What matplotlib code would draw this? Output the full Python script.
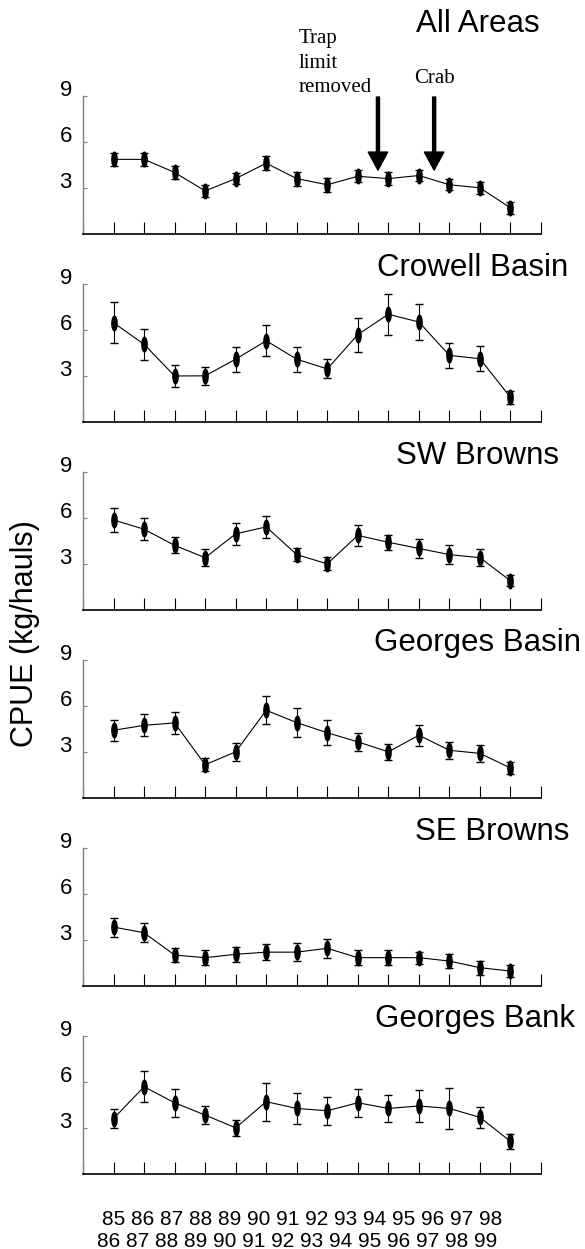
import matplotlib
matplotlib.use("Agg")
import matplotlib.pyplot as plt
from matplotlib.path import Path
from matplotlib.transforms import Affine2D

plt.rcParams['font.family'] = ['Liberation Sans', 'DejaVu Sans']
plt.rcParams['ytick.alignment'] = 'baseline'

# fishing seasons 1985-86 ... 1998-99
season_start = [85, 86, 87, 88, 89, 90, 91, 92, 93, 94, 95, 96, 97, 98]
season_end = [86, 87, 88, 89, 90, 91, 92, 93, 94, 95, 96, 97, 98, 99]

areas = ["All Areas", "Crowell Basin", "SW Browns",
         "Georges Basin", "SE Browns", "Georges Bank"]

# mean CPUE (kg/haul) and error bar half widths
all_areas_cpue = [4.85, 4.85, 4.0, 2.8, 3.6, 4.6, 3.6, 3.2, 3.75, 3.6, 3.8, 3.2, 3.0, 1.7]
all_areas_err = [0.4, 0.4, 0.4, 0.38, 0.38, 0.47, 0.45, 0.45, 0.4, 0.4, 0.36, 0.35, 0.4, 0.38]

crowell_cpue = [6.45, 5.05, 2.99, 3.0, 4.08, 5.28, 4.08, 3.45, 5.68, 7.0, 6.5, 4.33, 4.11, 1.6]
crowell_err = [1.32, 1.0, 0.72, 0.6, 0.8, 1.0, 0.8, 0.62, 1.1, 1.32, 1.2, 0.8, 0.8, 0.44]

sw_browns_cpue = [5.85, 5.25, 4.2, 3.4, 4.95, 5.4, 3.6, 3.0, 4.85, 4.4, 4.0, 3.6, 3.4, 1.9]
sw_browns_err = [0.8, 0.7, 0.52, 0.55, 0.72, 0.7, 0.42, 0.43, 0.7, 0.5, 0.6, 0.6, 0.55, 0.35]

georges_basin_cpue = [4.4, 4.72, 4.88, 2.16, 3.0, 5.7, 4.9, 4.24, 3.65, 3.0, 4.08, 3.1, 2.9, 1.95]
georges_basin_err = [0.7, 0.72, 0.72, 0.43, 0.6, 0.9, 0.94, 0.81, 0.6, 0.52, 0.68, 0.57, 0.57, 0.42]

se_browns_cpue = [3.83, 3.46, 2.01, 1.84, 2.06, 2.2, 2.2, 2.45, 1.84, 1.84, 1.84, 1.62, 1.19, 0.97]
se_browns_err = [0.62, 0.62, 0.44, 0.5, 0.47, 0.52, 0.6, 0.62, 0.47, 0.47, 0.38, 0.43, 0.45, 0.38]

georges_bank_cpue = [3.6, 5.67, 4.63, 3.83, 3.0, 4.7, 4.26, 4.11, 4.63, 4.26, 4.42, 4.26, 3.68, 2.12]
georges_bank_err = [0.6, 1.0, 0.91, 0.6, 0.54, 1.24, 1.0, 0.9, 0.91, 0.88, 1.02, 1.32, 0.7, 0.5]

panels = [(all_areas_cpue, all_areas_err), (crowell_cpue, crowell_err),
          (sw_browns_cpue, sw_browns_err), (georges_basin_cpue, georges_basin_err),
          (se_browns_cpue, se_browns_err), (georges_bank_cpue, georges_bank_err)]

# management events marked on the top panel (x = season index)
events = [("trap", 9.66), ("crab", 11.5)]

W, H = 585, 1249


def fx(px):
    return px / W


def fy(py):
    return 1 - py / H


# tall narrow ellipse used as the point marker
ellipse = Path.unit_circle().transformed(Affine2D().scale(0.36, 1.0))

fig = plt.figure(figsize=(W / 100, H / 100), dpi=100)
x = list(range(1, len(season_start) + 1))
title_x = [478, 473, 478, 477, 492, 475]

axes = []
for i, (cpue, err) in enumerate(panels):
    y0 = 234 + 188 * i
    ax = fig.add_axes([fx(83), fy(y0), (541 - 83) / W, 138.5 / H])
    ax.errorbar(x, cpue, yerr=err, fmt='-', color='k', lw=0.8,
                marker=ellipse, ms=10.5, mfc='k', mec='k',
                ecolor='k', elinewidth=0.8, capsize=3, capthick=1.0)
    ax.set_xlim(0, len(x) + 1)
    ax.set_ylim(0, 9)
    ax.set_xticks(range(0, len(x) + 2))
    ax.set_xticklabels([])
    ax.set_yticks([3, 6, 9])
    ax.tick_params(axis='x', direction='in', length=8.6, width=0.8, color='k')
    ax.tick_params(axis='y', direction='in', length=3, width=0.8,
                   color='#808080', labelsize=16, pad=8)
    ax.spines['top'].set_visible(False)
    ax.spines['right'].set_visible(False)
    ax.spines['left'].set_color('#808080')
    ax.spines['left'].set_linewidth(1.0)
    ax.spines['bottom'].set_linewidth(1.2)
    axes.append(ax)

    baseline = 32 if i == 0 else y0 - 138.5 - 8
    fig.text(fx(title_x[i]), fy(baseline), areas[i], ha='center',
             va='baseline', fontsize=22.5)

# arrows and notes on the All Areas panel
for name, ex in events:
    axes[0].annotate('', xy=(ex, 4.15), xytext=(ex, 8.9),
                     arrowprops=dict(width=2.2, headwidth=14, headlength=13,
                                     shrink=0, color='k'),
                     annotation_clip=False)

serif = ['Liberation Serif', 'DejaVu Serif']
for line, yb in zip(["Trap", "limit", "removed"], [43, 67.5, 92]):
    fig.text(fx(299), fy(yb), line, family=serif, fontsize=15, va='baseline')
fig.text(fx(414), fy(83), "Crab", family=serif, fontsize=15, va='baseline')

fig.text(fx(25), fy(634), "CPUE (kg/hauls)", rotation=90,
         ha='center', va='center', fontsize=22)

# season labels under the bottom panel
row1 = " ".join(str(s) for s in season_start)
row2 = " ".join(str(s) for s in season_end)
fig.text(fx(302), fy(1225), row1, ha='center', va='baseline', fontsize=15)
fig.text(fx(297), fy(1247), row2, ha='center', va='baseline', fontsize=15)

fig.savefig("out.png", dpi=100)
